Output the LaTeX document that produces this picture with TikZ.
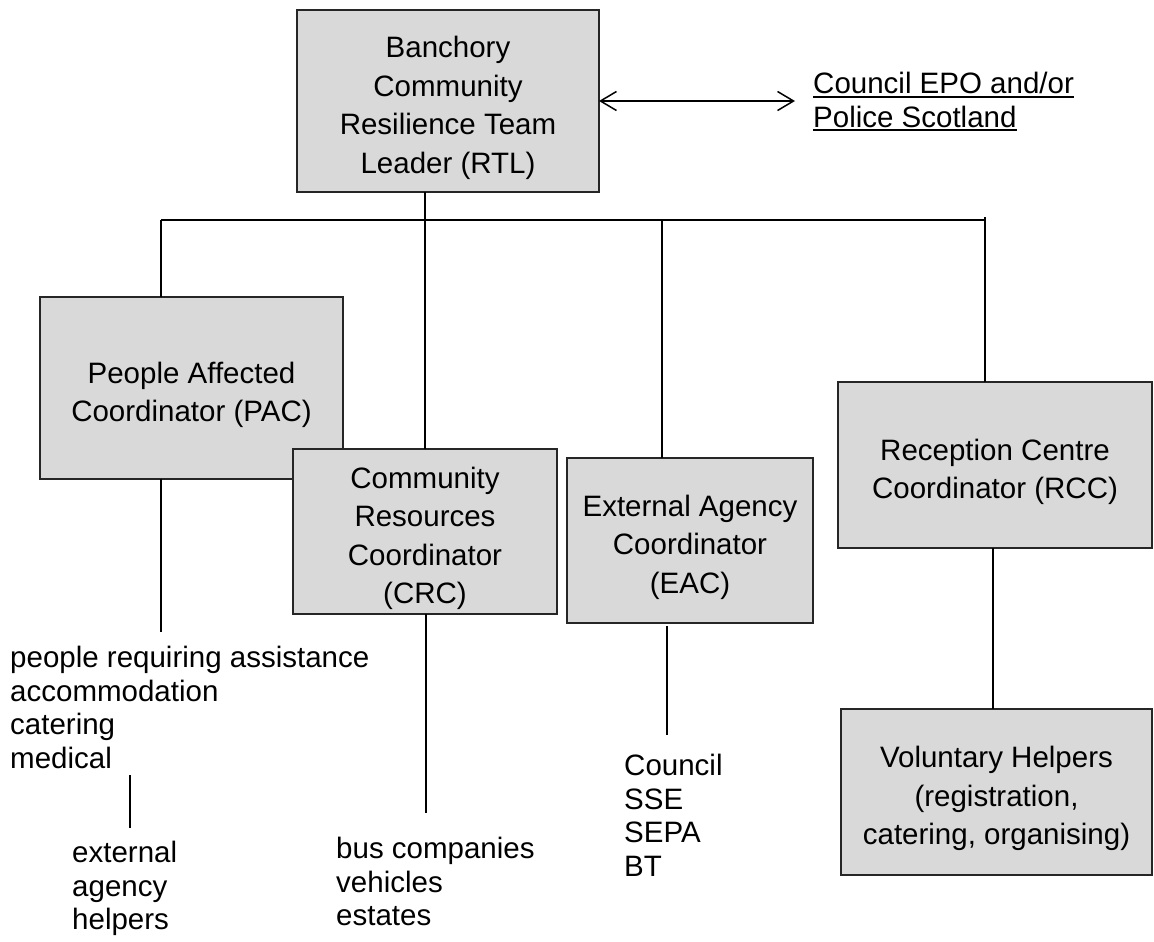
\documentclass[tikz,border=0pt]{standalone}
\usepackage{fontspec}
\setmainfont{Liberation Sans}
\usetikzlibrary{arrows.meta}
\definecolor{boxfill}{RGB}{217,217,217}
\newcommand\myuline[1]{\setbox0\hbox{#1}\rlap{\rule[-4pt]{\wd0}{1.7pt}}\box0}
\newcommand\topstrut{\rule{0pt}{35pt}}
\begin{document}
\begin{tikzpicture}[x=1pt,y=-1pt,
  box/.style={draw=black!85, line width=1.3pt, fill=boxfill, align=center,
    font=\fontsize{29.5}{38.5}\selectfont, inner sep=0pt, outer sep=0pt},
  plain/.style={align=left, font=\fontsize{29.5}{33.5}\selectfont, inner sep=0pt, anchor=north west},
  link/.style={line width=1.6pt, black},
  barb/.style={line width=1.5pt, {Straight Barb[length=16pt,width=19pt]}-{Straight Barb[length=16pt,width=19pt]}}
]
\useasboundingbox (0,0) rectangle (1154,942);

% boxes
\node[box, minimum width=302pt, minimum height=182pt] (rtl) at (448,101)
  {\topstrut Banchory\\Community\\Resilience Team\\Leader (RTL)};
\node[box, minimum width=303pt, minimum height=182pt] (pac) at (191.5,388)
  {\topstrut People Affected\\Coordinator (PAC)};
\node[box, minimum width=264pt, minimum height=165pt] (crc) at (425,531.5)
  {\topstrut Community\\Resources\\Coordinator\\(CRC)};
\node[box, minimum width=246pt, minimum height=165pt] (eac) at (690,540.5)
  {\topstrut External Agency\\Coordinator\\(EAC)};
\node[box, minimum width=314pt, minimum height=166pt] (rcc) at (995,465)
  {\topstrut Reception Centre\\Coordinator (RCC)};
\node[box, minimum width=311pt, minimum height=166pt] (vh) at (996.5,792)
  {\topstrut Voluntary Helpers\\(registration,\\catering, organising)};

% plain texts
\node[plain] (epo) at (813,72) {\myuline{Council EPO and/or}\\\myuline{Police Scotland}};
\node[plain] (pactext) at (10,646) {people requiring assistance\\accommodation\\catering\\medical};
\node[plain] (exttext) at (72,841) {external\\agency\\helpers};
\node[plain] (crctext) at (336,837) {bus companies\\vehicles\\estates};
\node[plain] (eactext) at (624,754) {Council\\SSE\\SEPA\\BT};

% coordinates
\coordinate (busL) at (161,220);
\coordinate (busR) at (985,220);
\coordinate (busRtop) at (985,217);
\coordinate (busE) at (662,220);
\coordinate (epoArrow) at (795,101);
\coordinate (pacEnd) at (161,632);
\coordinate (crcEnd) at (426,813);
\coordinate (eacStart) at (667,626);
\coordinate (eacEnd) at (667,735);
\coordinate (medTop) at (130,775);
\coordinate (medEnd) at (130,828);

% connectors
\draw[barb] (rtl.east) -- (epoArrow);
\draw[link] (rtl.south -| crc.north) -- (crc.north);
\draw[link] (busL) -- (busR);
\draw[link] (busL) -- (busL |- pac.north);
\draw[link] (busE) -- (busE |- eac.north);
\draw[link] (busRtop) -- (busR |- rcc.north);
\draw[link] (pac.south -| busL) -- (pacEnd);
\draw[link] (crc.south -| crcEnd) -- (crcEnd);
\draw[link] (eacStart) -- (eacEnd);
\draw[link] (rcc.south -| 993,0) -- (vh.north -| 993,0);
\draw[link] (medTop) -- (medEnd);
\end{tikzpicture}
\end{document}
